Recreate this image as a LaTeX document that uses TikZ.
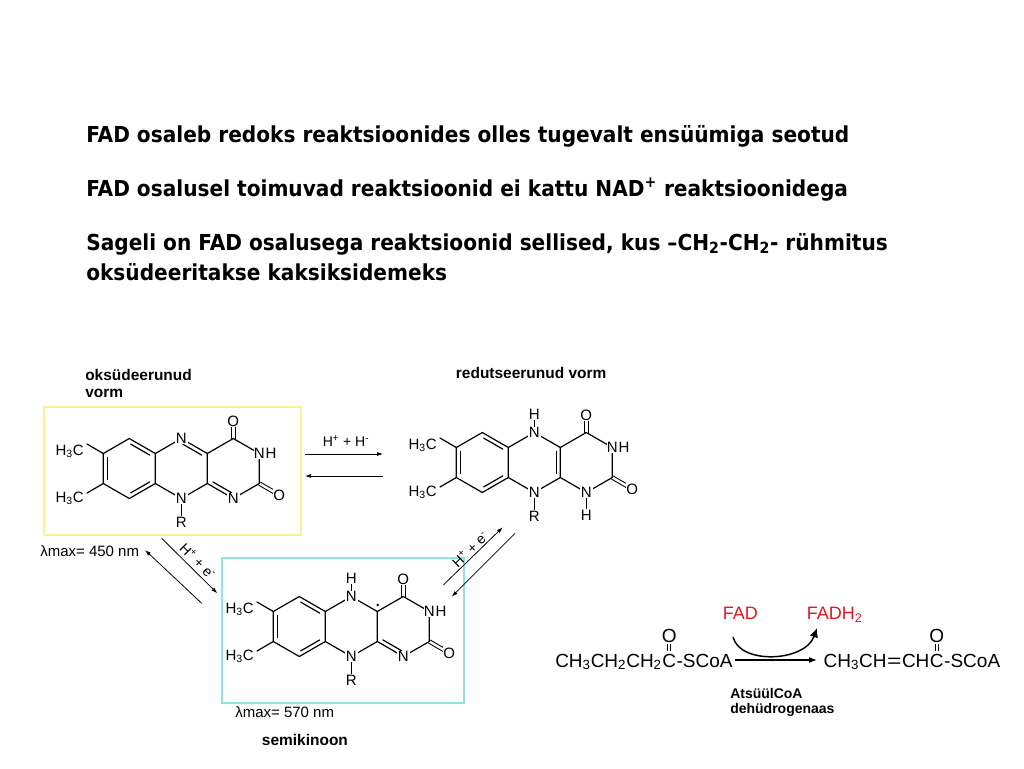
\documentclass[tikz,border=0pt]{standalone}
\usepackage{fontspec}
\usepackage{graphicx}
\setmainfont{Liberation Sans}
\newfontfamily\headfont{DejaVu Sans}[FakeStretch=0.915]
\usetikzlibrary{calc,arrows.meta}
\definecolor{boxyellow}{RGB}{245,245,150}
\definecolor{boxcyan}{RGB}{140,228,228}
\definecolor{fadred}{RGB}{225,25,35}
\tikzset{
 bond/.style={line width=0.9pt, line cap=round},
 dbond/.style={double, double distance=1.8pt, line width=0.75pt},
 atom/.style={fill=white, inner sep=0.6pt, font=\fontsize{11.25}{12}\selectfont},
 lbl/.style={inner sep=0pt, font=\fontsize{11.25}{12}\selectfont},
 blbl/.style={inner sep=0pt, anchor=base west, font=\fontsize{11.6}{13}\selectfont\bfseries},
 elbl/.style={inner sep=0pt, anchor=base west, font=\fontsize{10.5}{12}\selectfont\bfseries},
 head/.style={inner sep=0pt, anchor=base west, font=\fontsize{16.5}{18}\selectfont\headfont\bfseries},
 rxn/.style={inner sep=0pt, anchor=base west, font=\fontsize{14.25}{16}\selectfont},
 redlbl/.style={inner sep=0pt, anchor=base west, text=fadred, font=\fontsize{13.5}{15}\selectfont},
 arr/.style={line width=0.6pt, -{Latex[length=4.5pt,width=3pt]}},
 boxy/.style={draw=boxyellow, line width=1.5pt},
 boxc/.style={draw=boxcyan, line width=1.5pt},
}
\newcommand{\innerbond}[3]{\draw[bond, shorten <=1.2pt, shorten >=1.2pt] ($(#1)!0.84!(#2)$) -- ($(#1)!0.84!(#3)$);}
\newcommand{\flavgeom}[3]{%
 \coordinate (#1Lt) at ({129.3+#2},{438.5+#3});
 \coordinate (#1Lrt) at ({155.3+#2},{453.5+#3});
 \coordinate (#1Lrb) at ({155.3+#2},{483.5+#3});
 \coordinate (#1Lb) at ({129.3+#2},{498.5+#3});
 \coordinate (#1Llb) at ({103.3+#2},{483.5+#3});
 \coordinate (#1Llt) at ({103.3+#2},{453.5+#3});
 \coordinate (#1Lc) at ({129.3+#2},{468.5+#3});
 \coordinate (#1N5) at ({181.3+#2},{438.5+#3});
 \coordinate (#1C4a) at ({207.3+#2},{453.5+#3});
 \coordinate (#1C10a) at ({207.3+#2},{483.5+#3});
 \coordinate (#1N10) at ({181.3+#2},{498.5+#3});
 \coordinate (#1Mc) at ({181.3+#2},{468.5+#3});
 \coordinate (#1C4) at ({233.3+#2},{438.5+#3});
 \coordinate (#1N3) at ({259.3+#2},{453.5+#3});
 \coordinate (#1C2) at ({259.3+#2},{483.5+#3});
 \coordinate (#1N1) at ({233.3+#2},{498.5+#3});
 \coordinate (#1Rc) at ({233.3+#2},{468.5+#3});
 \coordinate (#1O4) at ({233.3+#2},{421+#3});
 \coordinate (#1O2) at ({279.2+#2},{495+#3});
 \coordinate (#1Me1) at ({87+#2},{444+#3});
 \coordinate (#1Me2) at ({87+#2},{493+#3});
 \coordinate (#1R) at ({181.3+#2},{522+#3});
 \coordinate (#1H5) at ({181.3+#2},{420+#3});
 \coordinate (#1H1) at ({233.3+#2},{521+#3});
 \draw[dbond] (#1C4) -- (#1O4);
 \draw[dbond] (#1C2) -- (#1O2);
 \draw[bond] (#1Lt) -- (#1Lrt) -- (#1Lrb) -- (#1Lb) -- (#1Llb) -- (#1Llt) -- cycle;
 \draw[bond] (#1Lrt) -- (#1N5) -- (#1C4a) -- (#1C10a) -- (#1N10) -- (#1Lrb);
 \draw[bond] (#1C4a) -- (#1C4) -- (#1N3) -- (#1C2) -- (#1N1) -- (#1C10a);
 \draw[bond] (#1Llt) -- (#1Me1);
 \draw[bond] (#1Llb) -- (#1Me2);
 \draw[bond] (#1N10) -- (#1R);
 \innerbond{#1Lc}{#1Lt}{#1Lrt}
 \innerbond{#1Lc}{#1Lrb}{#1Lb}
 \innerbond{#1Lc}{#1Llb}{#1Llt}
}
\newcommand{\flavlabels}[3]{%
 \node[atom] (#1nN5) at (#1N5) {N};
 \node[atom] (#1nN10) at (#1N10) {N};
 \node[atom] (#1nR) at (#1R) {R};
 \node[atom, inner xsep=0pt] (#1nN3) at (#1N3) {N};
 \node[atom, inner xsep=0.3pt, anchor=west] (#1nH3) at (#1nN3.east) {H};
 \node[atom] (#1nN1) at (#1N1) {N};
 \node[atom] (#1nO4) at (#1O4) {O};
 \node[atom] (#1nO2) at (#1O2) {O};
 \node[lbl, anchor=base east] (#1nMe1) at ({84+#2},{455+#3}) {H\textsubscript{3}C};
 \node[lbl, anchor=base east] (#1nMe2) at ({84+#2},{502+#3}) {H\textsubscript{3}C};
}
\begin{document}
\begin{tikzpicture}[x=0.75pt,y=-0.75pt]
\fill[white] (0,0) rectangle (1024,768);
\useasboundingbox (0,0) rectangle (1024,768);

% headings
\node[head] (t1) at (86,142) {FAD osaleb redoks reaktsioonides olles tugevalt ensüümiga seotud};
\node[head] (t2) at (86,196) {FAD osalusel toimuvad reaktsioonid ei kattu NAD\textsuperscript{+} reaktsioonidega};
\node[head] (t3) at (86,250) {Sageli on FAD osalusega reaktsioonid sellised, kus –CH\textsubscript{2}-CH\textsubscript{2}- rühmitus};
\node[head] (t4) at (86,280) {oksüdeeritakse kaksiksidemeks};

% boxes
\draw[boxy] (44,407) rectangle (301,535);
\draw[boxc] (222,558) rectangle (464,703);

% oxidized
\flavgeom{o}{0}{0}
\innerbond{oMc}{oN5}{oC4a}
\innerbond{oRc}{oC10a}{oN1}
\flavlabels{o}{0}{0}

% reduced
\flavgeom{r}{353}{-6}
\innerbond{rMc}{rC4a}{rC10a}
\draw[bond] (rN5) -- (rH5);
\draw[bond] (rN1) -- (rH1);
\flavlabels{r}{353}{-6}
\node[atom] (rnH5) at (rH5) {H};
\node[atom] (rnH1) at (rH1) {H};

% semiquinone
\flavgeom{s}{170}{158}
\innerbond{sRc}{sC10a}{sN1}
\draw[bond] (sN5) -- (sH5);
\flavlabels{s}{170}{158}
\node[atom] (snH5) at (sH5) {H};
\node[circle, fill=black, inner sep=0.7pt] (sdot) at ($(sC4a)+(0.5,-6.5)$) {};

% titles
\node[blbl] (lox1) at (85,380.5) {oksüdeerunud};
\node[blbl] (lox2) at (85,397.5) {vorm};
\node[blbl] (lred) at (455.7,378.5) {redutseerunud vorm};
\node[blbl] (lsem) at (261.7,745.5) {semikinoon};
\node[lbl, anchor=base west] (lam1) at (40,556) {λmax= 450 nm};
\node[lbl, anchor=base west] (lam2) at (235,717) {λmax= 570 nm};

% horizontal arrows
\coordinate (h1a) at (305,454); \coordinate (h1b) at (383,454);
\coordinate (h2a) at (383,476); \coordinate (h2b) at (305,476);
\draw[arr] (h1a) -- (h1b);
\draw[arr] (h2a) -- (h2b);
\node[lbl, font=\fontsize{10.5}{12}\selectfont] (hl) at (346,441) {H\textsuperscript{+} + H\textsuperscript{-}};

% left diagonal arrows
\coordinate (d1a) at (201.7,603.3); \coordinate (d1b) at (145,550);
\coordinate (d2a) at (161.7,538.3); \coordinate (d2b) at (217.3,593.3);
\draw[arr] (d1a) -- (d1b);
\draw[arr] (d2a) -- (d2b);
\node[lbl, rotate=-45, font=\fontsize{10.5}{12}\selectfont] (dl1) at (198,561) {H\textsuperscript{+} + e\textsuperscript{-}};

% right diagonal arrows
\coordinate (d3a) at (443.3,585); \coordinate (d3b) at (502.7,527.3);
\coordinate (d4a) at (515,533.3); \coordinate (d4b) at (451.7,596.7);
\draw[arr] (d3a) -- (d3b);
\draw[arr] (d4a) -- (d4b);
\node[lbl, rotate=44, font=\fontsize{10.5}{12}\selectfont] (dl2) at (470,549) {H\textsuperscript{+} + e\textsuperscript{-}};

% reaction: butyryl-CoA -> crotonyl-CoA
\node[rxn] (lA) at (555,667) {CH\textsubscript{3}CH\textsubscript{2}CH\textsubscript{2}};
\node[rxn] (lC) at (lA.base east) {C};
\node[rxn] (lS) at (lC.base east) {-SCoA};
\node[rxn, anchor=base] (lO) at ($(lC.base)+(0,-25)$) {O};
\draw[line width=0.5pt, double, double distance=1.6pt, shorten <=1.5pt, shorten >=1.5pt] (lO.south) -- (lC.north);

\node[rxn] (rA) at (823.3,667) {CH\textsubscript{3}CH};
\node[rxn] (rE) at (rA.base east) {\scalebox{1.3}[1]{=}};
\node[rxn] (rB) at (rE.base east) {CH};
\node[rxn] (rC) at (rB.base east) {C};
\node[rxn] (rS) at (rC.base east) {-SCoA};
\node[rxn, anchor=base] (rO) at ($(rC.base)+(0,-25)$) {O};
\draw[line width=0.5pt, double, double distance=1.6pt, shorten <=1.5pt, shorten >=1.5pt] (rO.south) -- (rC.north);

\coordinate (ma1) at (735,660); \coordinate (ma2) at (817,660);
\draw[line width=0.9pt, -{Latex[length=6pt,width=4.5pt]}] (ma1) -- (ma2);

\node[redlbl] (fad) at (722.7,619.7) {FAD};
\node[redlbl] (fadh) at (806.7,619.7) {FADH\textsubscript{2}};
\coordinate (cv1) at (733,637); \coordinate (cv2) at (817,628);
\draw[line width=1.1pt, -{Latex[length=7pt,width=6.5pt]}] (cv1) .. controls (740,665) and (805,662) .. (cv2);

\node[elbl] (enz1) at (730,698) {AtsüülCoA};
\node[elbl] (enz2) at (730,713) {dehüdrogenaas};
\end{tikzpicture}
\end{document}
